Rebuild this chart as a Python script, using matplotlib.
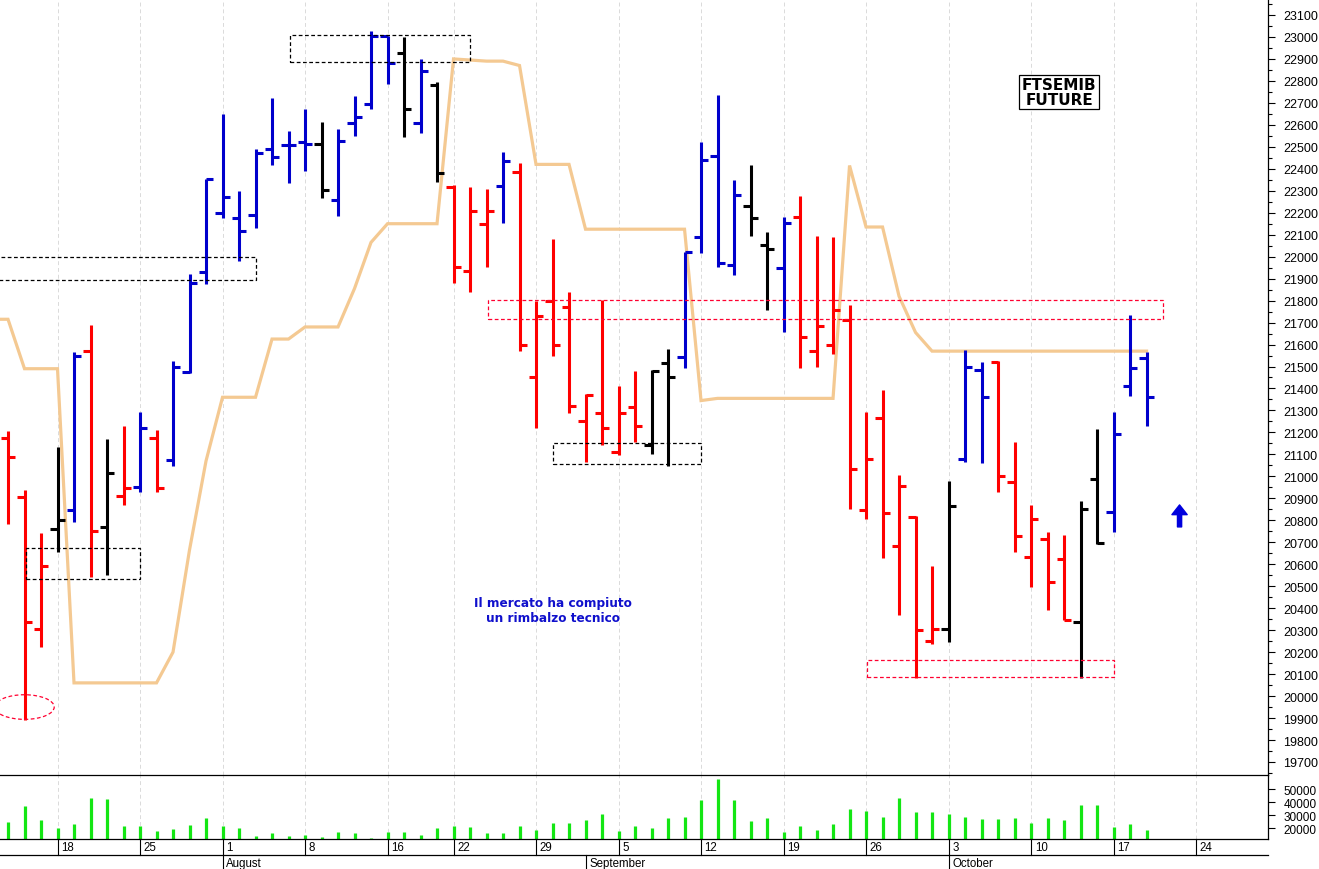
import matplotlib
matplotlib.use("Agg")
import matplotlib.pyplot as plt
import matplotlib.transforms as mtransforms
from matplotlib.lines import Line2D
from matplotlib.patches import Rectangle, Ellipse
import numpy as np
import pandas as pd

# trading days of the FTSEMIB future (IDEM closed on 15 August)
days = pd.bdate_range("2022-07-13", "2022-10-31")
days = days[days != pd.Timestamp("2022-08-15")]

# daily OHLC
opens = [21175, 20905, 20305, 20760, 20845, 21570, 20770, 20910, 20950, 21175,
         21075, 21475, 21930, 22200, 22175, 22190, 22490, 22510, 22520, 22515,
         22260, 22610, 22695, 23005, 22925, 22610, 22780, 22315, 21935, 22150,
         22320, 22385, 21450, 21800, 21770, 21250, 21290, 21110, 21315, 21145,
         21515, 21545, 22090, 22460, 21960, 22230, 22055, 21950, 22180, 21570,
         21600, 21710, 20845, 21265, 20685, 20815, 20250, 20305, 21080, 21485,
         21520, 20975, 20635, 20715, 20625, 20335, 20990, 20840, 21410, 21540]
highs = [21205, 20940, 20740, 21135, 21565, 21690, 21170, 21230, 21295, 21210,
         21525, 21920, 22355, 22650, 22300, 22490, 22720, 22570, 22670, 22615,
         22580, 22730, 23025, 23005, 23000, 22900, 22795, 22325, 22315, 22310,
         22475, 22425, 21800, 22080, 21840, 21375, 21805, 21410, 21480, 21485,
         21580, 22020, 22520, 22735, 22350, 22415, 22110, 22180, 22275, 22095,
         22090, 21780, 21295, 21395, 21005, 20820, 20590, 20980, 21575, 21520,
         21525, 21155, 20870, 20745, 20735, 20890, 21215, 21295, 21735, 21565]
lows = [20785, 19890, 20225, 20655, 20790, 20540, 20550, 20870, 20930, 20930,
        21045, 21470, 21875, 22175, 21980, 22130, 22415, 22335, 22390, 22265,
        22185, 22550, 22670, 22785, 22545, 22565, 22340, 21880, 21840, 21955,
        22155, 21570, 21220, 21550, 21290, 21065, 21145, 21095, 21155, 21100,
        21045, 21495, 22015, 21955, 21915, 22095, 21755, 21655, 21495, 21500,
        21555, 20850, 20805, 20630, 20370, 20080, 20235, 20245, 21065, 21060,
        20930, 20655, 20495, 20390, 20345, 20080, 20690, 20745, 21365, 21230]
closes = [21090, 20335, 20590, 20800, 21550, 20750, 21015, 20945, 21220, 20945,
          21500, 21880, 22355, 22270, 22115, 22470, 22455, 22510, 22515, 22305,
          22525, 22635, 23005, 22880, 22670, 22845, 22380, 21955, 22210, 22210,
          22435, 21600, 21730, 21600, 21320, 21370, 21220, 21290, 21230, 21480,
          21450, 22020, 22440, 21970, 22280, 22175, 22035, 22155, 21635, 21685,
          21755, 21035, 21080, 20835, 20955, 20300, 20305, 20865, 21500, 21360,
          21000, 20730, 20805, 20520, 20345, 20850, 20695, 21195, 21495, 21360]
bar_codes = ("rrrkbrkrbr" "bbbbbbbbbk" "bbbbkbkrrr" "brrrrrrrrk"
             "kbbbbkkbrr" "rrrrrrrkbb" "rrrrrkkbbb")

volume = [24400, 36700, 26150, 20250, 23100, 42800, 42050, 21300, 21300, 17450,
          19250, 22300, 27700, 21300, 19750, 13600, 16150, 13600, 14600, 12850,
          16700, 16150, 12050, 16700, 16700, 14850, 19750, 21300, 20550, 16150,
          16150, 21300, 18700, 23850, 23850, 26150, 30750, 17700, 21800, 19750,
          27450, 28200, 41800, 57700, 41800, 25150, 27450, 17200, 21300, 18700,
          23100, 34600, 32800, 28200, 43100, 32050, 32050, 30750, 28200, 26900,
          26900, 27450, 23850, 27450, 26150, 37950, 37700, 21050, 23100, 18450]

# orange trailing line
trend = [21715, 21490, 21490, 21490, 20060, 20060, 20060, 20060, 20060, 20060,
         20200, 20665, 21070, 21360, 21360, 21360, 21625, 21625, 21680, 21680,
         21680, 21855, 22065, 22150, 22150, 22150, 22150, 22900, 22895, 22890,
         22890, 22870, 22420, 22420, 22420, 22125, 22125, 22125, 22125, 22125,
         22125, 22125, 21345, 21355, 21355, 21355, 21355, 21355, 21355, 21355,
         21355, 22415, 22135, 22135, 21820, 21655, 21570, 21570, 21570, 21570,
         21570, 21570, 21570, 21570, 21570, 21570, 21570, 21570, 21570, 21570]

# support / resistance boxes: (first day, last day, low, high, colour)
zones = [(-1.0, 15.0, 21895, 22000, "black"),
         (1.1, 8.0, 20535, 20675, "black"),
         (17.1, 28.0, 22885, 23010, "black"),
         (33.0, 42.0, 21055, 21150, "black"),
         (29.1, 70.0, 21715, 21805, "#ff0030"),
         (52.05, 67.0, 20085, 20165, "#ff0030")]

palette = {"r": "#ff0000", "b": "#0000cc", "k": "#000000"}
plt.rcParams["font.family"] = ["Liberation Sans", "DejaVu Sans"]

W, H = 1319, 870
fig = plt.figure(figsize=(W / 100, H / 100), dpi=100)
right = 1268 / W
ax = fig.add_axes([0, 1 - 776 / H, right, 776 / H])
axv = fig.add_axes([0, 1 - 840 / H, right, 64 / H], sharex=ax)
axv.patch.set_visible(False)

idx = np.arange(len(closes))
cols = [palette[c] for c in bar_codes]
tick = 0.44
lw = 2.2

# week / month boundaries
week_starts = [i for i in range(1, len(days)) if days[i].week != days[i - 1].week]
month_starts = [i for i in range(1, len(days)) if days[i].month != days[i - 1].month]
xmin, xmax = -0.485, 76.36
week_starts = [i for i in week_starts if xmin < i < xmax]
month_starts = [i for i in month_starts if xmin < i < xmax]

for a in (ax, axv):
    for i in week_starts:
        a.axvline(i, color="#dadada", lw=0.7, ls=(0, (4, 3)), zorder=0)

# trend line
ax.plot(np.r_[-1, idx], np.r_[trend[0], trend], color="#f4c992", lw=2.3,
        solid_joinstyle="miter", zorder=2)

# OHLC bars
ax.vlines(idx, lows, highs, colors=cols, lw=lw, zorder=3)
ax.hlines(opens, idx - tick, idx, colors=cols, lw=lw, zorder=3)
ax.hlines(closes, idx, idx + tick, colors=cols, lw=lw, zorder=3)

for x0, x1, lo, hi, c in zones:
    ax.add_patch(Rectangle((x0, lo), x1 - x0, hi - lo, fill=False, ec=c,
                           lw=0.9, ls=(0, (3, 2)), zorder=4))
ax.add_patch(Ellipse((1.0, 19950), 3.6, 112, fill=False, ec="#ff0030",
                     lw=0.9, ls=(0, (3, 2)), zorder=4))

ax.text(33.0, 20392, "Il mercato ha compiuto\nun rimbalzo tecnico",
        ha="center", va="center", color="#1010cc", fontsize=8.7,
        fontweight="bold", family="DejaVu Sans", linespacing=1.15)
ax.text(63.7, 22750, "FTSEMIB\nFUTURE", ha="center", va="center",
        fontsize=11, fontweight="bold", family="DejaVu Sans", linespacing=1.0,
        bbox=dict(boxstyle="square,pad=0.15", fc="white", ec="black", lw=0.9))
ax.annotate("", xy=(71, 20870), xytext=(71, 20770),
            arrowprops=dict(facecolor="#0000dd", edgecolor="#0000dd",
                            width=3, headwidth=11, headlength=7, shrink=0))

ax.set_xlim(xmin, xmax)
ax.set_ylim(19640.7, 23172.8)
ax.yaxis.tick_right()
ax.set_yticks(np.arange(19700, 23101, 100))
ax.set_yticks(np.arange(19650, 23151, 50), minor=True)
ax.tick_params(axis="y", which="major", length=5, width=0.8, pad=6, labelsize=9)
ax.tick_params(axis="y", which="minor", length=3, width=0.8)
ax.tick_params(axis="x", bottom=False, labelbottom=False)
for s in ("left", "top", "bottom"):
    ax.spines[s].set_visible(False)
ax.spines["right"].set_linewidth(0.9)

# volume panel
vol_floor = 11540
axv.vlines(idx, vol_floor, volume, colors="#14e614", lw=2.3)
axv.set_ylim(vol_floor, 60770)
axv.yaxis.tick_right()
axv.set_yticks([20000, 30000, 40000, 50000])
axv.tick_params(axis="y", length=5, width=0.8, pad=6, labelsize=8.5)
axv.tick_params(axis="x", bottom=False, labelbottom=False)
axv.spines["left"].set_visible(False)
for s in ("right", "top", "bottom"):
    axv.spines[s].set_linewidth(0.9)

# date rows under the volume panel
trans = mtransforms.blended_transform_factory(axv.transData, fig.transFigure)
r1_top, r1_bot, r2_bot = 1 - 840 / H, 1 - 856 / H, 0.0
fig.add_artist(Line2D([0, right], [r1_bot, r1_bot], transform=fig.transFigure,
                      color="black", lw=0.9))
for i in week_starts:
    axv.add_line(Line2D([i, i], [r1_bot, r1_top], transform=trans,
                        color="black", lw=0.8, clip_on=False))
    axv.text(i + 0.22, (r1_top + r1_bot) / 2, str(days[i].day), transform=trans,
             ha="left", va="center", fontsize=8.3, clip_on=False)
for i in month_starts:
    axv.add_line(Line2D([i, i], [r2_bot, r1_bot], transform=trans,
                        color="black", lw=0.8, clip_on=False))
    axv.text(i + 0.22, (r1_bot + r2_bot) / 2 - 0.001, days[i].strftime("%B"),
             transform=trans, ha="left", va="center", fontsize=8.3, clip_on=False)

fig.savefig("out.png", dpi=100)
